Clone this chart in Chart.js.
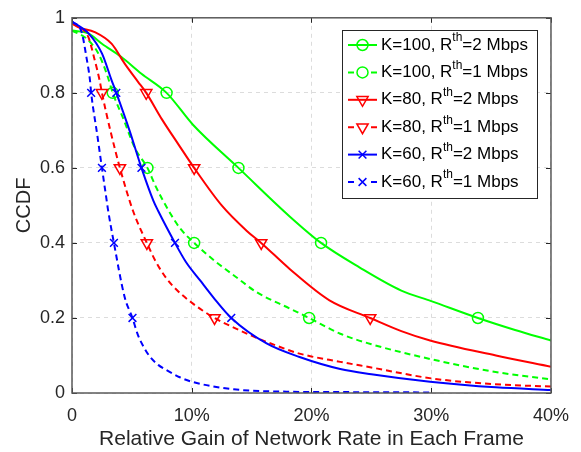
<!DOCTYPE html>
<html>
<head>
<meta charset="utf-8">
<title>CCDF of relative gain</title>
<script src="https://cdn.jsdelivr.net/npm/chart.js@4.4.1/dist/chart.umd.min.js"></script>
<style>
    body { margin: 0; background: #fff; }
</style>
</head>
<body>
<canvas id="ccdf" width="581" height="452"></canvas>
<script>
/******************************************************************************
* Values. x is the relative gain in percent.
******************************************************************************/
var xTicks = [0, 10, 20, 30, 40];
var yTicks = [0, 0.2, 0.4, 0.6, 0.8, 1];
var markLevels = [0.8, 0.6, 0.4, 0.2];

var legendK = ['100', '100', '80', '80', '60', '60'];
var legendR = ['2', '1', '2', '1', '2', '1'];

var k100r2X = [0, 1.4, 2.5, 4.1, 5.8, 7.9, 10.1, 13.9, 18.2, 20.8, 24, 27.5, 30, 33.9, 37, 40];
var k100r2Y = [0.966, 0.958, 0.931, 0.896, 0.851, 0.8, 0.715, 0.6, 0.47, 0.4, 0.335, 0.273, 0.245, 0.2, 0.168, 0.14];

var k100r1X = [0, 1.2, 2.2, 2.9, 3.4, 4.3, 5.25, 6.3, 7.0, 8.0, 9.0, 10.2, 12, 13.75, 15.4, 18.2, 19.8, 22.4, 25, 30, 35, 40];
var k100r1Y = [0.966, 0.945, 0.905, 0.851, 0.8, 0.73, 0.653, 0.6, 0.55, 0.49, 0.44, 0.4, 0.35, 0.308, 0.269, 0.225, 0.2, 0.158, 0.13, 0.09, 0.058, 0.036];

var k80r2X = [0, 0.5, 1.9, 3.3, 4.4, 5.5, 6.2, 7.5, 8.9, 10.2, 12.5, 14.6, 15.8, 18.2, 21.5, 24.9, 27.5, 29.9, 35.4, 40];
var k80r2Y = [0.985, 0.975, 0.962, 0.931, 0.878, 0.83, 0.8, 0.73, 0.662, 0.6, 0.5, 0.432, 0.4, 0.33, 0.247, 0.2, 0.165, 0.14, 0.1, 0.07];

var k80r1X = [0, 0.6, 1.36, 1.9, 2.3, 2.5, 3.2, 4.0, 5.1, 6.25, 7.0, 7.9, 8.9, 9.9, 10.9, 11.9, 13.4, 14.9, 17, 19, 22.4, 25, 30, 35, 40];
var k80r1Y = [0.985, 0.975, 0.949, 0.887, 0.834, 0.8, 0.7, 0.6, 0.485, 0.4, 0.35, 0.305, 0.27, 0.243, 0.22, 0.2, 0.176, 0.154, 0.127, 0.105, 0.083, 0.068, 0.039, 0.024, 0.017];

var k60r2X = [0, 1.4, 2.5, 3.3, 3.7, 4.8, 5.8, 6.8, 7.2, 8.6, 9.5, 10.7, 11.8, 13.3, 16.25, 19, 22.4, 25, 29.9, 35.4, 40];
var k60r2Y = [0.99, 0.958, 0.905, 0.834, 0.8, 0.7, 0.6, 0.512, 0.485, 0.4, 0.35, 0.3, 0.255, 0.2, 0.132, 0.096, 0.064, 0.05, 0.03, 0.015, 0.008];

var k60r1X = [0, 0.8, 1.2, 1.5, 1.6, 2.1, 2.5, 2.9, 3.0, 3.5, 4.4, 5.05, 5.5, 6.0, 6.5, 7.2, 7.9, 9.0, 10, 13.5, 17.9, 22, 26, 30];
var k60r1Y = [0.99, 0.962, 0.896, 0.834, 0.8, 0.69, 0.6, 0.512, 0.49, 0.4, 0.255, 0.2, 0.155, 0.122, 0.097, 0.075, 0.061, 0.042, 0.03, 0.01, 0.0035, 0.0025, 0.002, 0.0015];

var seriesX = [k100r2X, k100r1X, k80r2X, k80r1X, k60r2X, k60r1X];
var seriesY = [k100r2Y, k100r1Y, k80r2Y, k80r1Y, k60r2Y, k60r1Y];

/******************************************************************************
* Look of each curve (MATLAB style).
******************************************************************************/
var FONT = '"Liberation Sans", Arial, Helvetica, sans-serif';
var AXIS_COLOR = '#262626';
var DASH = [6, 4];

var styles = [
    { color: '#00ff00', dashed: false, marker: 'circle',   rotation: 0,   radius: 5.5 },
    { color: '#00ff00', dashed: true,  marker: 'circle',   rotation: 0,   radius: 5.5 },
    { color: '#ff0000', dashed: false, marker: 'triangle', rotation: 180, radius: 6.5 },
    { color: '#ff0000', dashed: true,  marker: 'triangle', rotation: 180, radius: 6.5 },
    { color: '#0000ff', dashed: false, marker: 'crossRot', rotation: 0,   radius: 5.5 },
    { color: '#0000ff', dashed: true,  marker: 'crossRot', rotation: 0,   radius: 5.5 }
];

function make_points(xs, ys) {
    return xs.map(function (x, i) { return { x: x, y: ys[i] }; });
}

function is_marked(ctx) {
    return ctx.raw && markLevels.indexOf(ctx.raw.y) >= 0;
}

var datasets = styles.map(function (s, i) {
    return {
        label: 'K=' + legendK[i] + ', Rth=' + legendR[i] + ' Mbps',
        data: make_points(seriesX[i], seriesY[i]),
        borderColor: s.color,
        borderWidth: 2,
        borderDash: s.dashed ? DASH : [],
        cubicInterpolationMode: 'monotone',
        fill: false,
        pointStyle: s.marker,
        pointRotation: s.rotation,
        pointBorderColor: s.color,
        pointBackgroundColor: 'rgba(0,0,0,0)',
        pointBorderWidth: 1.5,
        pointRadius: function (ctx) { return is_marked(ctx) ? s.radius : 0; },
        order: styles.length - i
    };
});

/******************************************************************************
* Draws a hollow marker (used by the legend).
******************************************************************************/
function draw_marker(ctx, style, x, y) {
    var r = style.radius;
    ctx.beginPath();
    if (style.marker === 'circle') {
        ctx.arc(x, y, r, 0, Math.PI * 2);
    }
    else if (style.marker === 'triangle') {
        var h = r * Math.sin(Math.PI / 3);
        ctx.moveTo(x - h, y - r / 2);
        ctx.lineTo(x + h, y - r / 2);
        ctx.lineTo(x, y + r);
        ctx.closePath();
    }
    else {
        var d = r * Math.SQRT1_2;
        ctx.moveTo(x - d, y - d);
        ctx.lineTo(x + d, y + d);
        ctx.moveTo(x + d, y - d);
        ctx.lineTo(x - d, y + d);
    }
    ctx.stroke();
}

/******************************************************************************
* Box round the axes with inward tick marks on all four sides.
******************************************************************************/
var boxPlugin = {
    id: 'matlabBox',
    afterDatasetsDraw: function (chart) {
        var ctx = chart.ctx;
        var a = chart.chartArea;
        var xs = chart.scales.x;
        var ys = chart.scales.y;
        var len = 5;

        ctx.save();
        ctx.strokeStyle = AXIS_COLOR;
        ctx.lineWidth = 1;
        ctx.setLineDash([]);
        ctx.beginPath();
        xTicks.forEach(function (v) {
            var px = Math.round(xs.getPixelForValue(v)) + 0.5;
            ctx.moveTo(px, a.bottom);
            ctx.lineTo(px, a.bottom - len);
            ctx.moveTo(px, a.top);
            ctx.lineTo(px, a.top + len);
        });
        yTicks.forEach(function (v) {
            var py = Math.round(ys.getPixelForValue(v)) + 0.5;
            ctx.moveTo(a.left, py);
            ctx.lineTo(a.left + len, py);
            ctx.moveTo(a.right, py);
            ctx.lineTo(a.right - len, py);
        });
        ctx.stroke();

        ctx.strokeStyle = '#5a5a5a';
        ctx.lineWidth = 1.5;
        ctx.strokeRect(a.left, a.top, a.right - a.left, a.bottom - a.top);
        ctx.restore();
    }
};

/******************************************************************************
* Legend with superscript "th", drawn inside the upper right corner.
******************************************************************************/
var legendPlugin = {
    id: 'matlabLegend',
    afterDraw: function (chart) {
        var ctx = chart.ctx;
        var left = 342, top = 30, width = 195, height = 168;
        var rowTop = 45, rowStep = 27.4;

        ctx.save();
        ctx.fillStyle = '#ffffff';
        ctx.fillRect(left, top, width, height);
        ctx.strokeStyle = AXIS_COLOR;
        ctx.lineWidth = 1;
        ctx.strokeRect(left + 0.5, top + 0.5, width, height);

        styles.forEach(function (s, i) {
            var y = rowTop + i * rowStep;
            var x0 = left + 6, x1 = left + 35, xm = (x0 + x1) / 2;

            ctx.strokeStyle = s.color;
            ctx.lineWidth = 2;
            ctx.beginPath();
            if (s.dashed) {
                ctx.moveTo(x0, y); ctx.lineTo(x0 + 6, y);
                ctx.moveTo(x1 - 6, y); ctx.lineTo(x1, y);
            }
            else {
                ctx.moveTo(x0, y); ctx.lineTo(x1, y);
            }
            ctx.stroke();
            ctx.lineWidth = 1.5;
            draw_marker(ctx, s, xm, y);

            var tx = left + 39;
            var part1 = 'K=' + legendK[i] + ', R';
            var part3 = '=' + legendR[i] + ' Mbps';
            ctx.fillStyle = '#000000';
            ctx.textBaseline = 'middle';
            ctx.textAlign = 'left';
            ctx.font = '17px ' + FONT;
            ctx.fillText(part1, tx, y);
            tx += ctx.measureText(part1).width;
            ctx.font = '12px ' + FONT;
            ctx.fillText('th', tx, y - 7);
            tx += ctx.measureText('th').width;
            ctx.font = '17px ' + FONT;
            ctx.fillText(part3, tx, y);
        });
        ctx.restore();
    }
};

var ctx = document.getElementById('ccdf').getContext('2d');
window.ccdfChart = new Chart(ctx, {
    type: 'line',
    data: { datasets: datasets },
    plugins: [boxPlugin, legendPlugin],
    options: {
        responsive: false,
        animation: false,
        events: [],
        layout: { padding: { left: 0, right: 30, top: 16, bottom: 0 } },
        plugins: {
            legend: { display: false },
            tooltip: { enabled: false }
        },
        scales: {
            x: {
                type: 'linear',
                min: 0,
                max: 40,
                afterFit: function (scale) { scale.height = 59; },
                afterBuildTicks: function (scale) {
                    scale.ticks = xTicks.map(function (v) { return { value: v }; });
                },
                grid: { color: '#dcdcdc', lineWidth: 1, drawTicks: false },
                border: { display: false, dash: [4, 4] },
                ticks: {
                    padding: 12,
                    color: AXIS_COLOR,
                    font: { family: FONT, size: 18 },
                    maxRotation: 0,
                    callback: function (v) { return v === 0 ? '0' : v + '%'; }
                },
                title: {
                    display: true,
                    text: 'Relative Gain of Network Rate in Each Frame',
                    color: AXIS_COLOR,
                    font: { family: FONT, size: 21 },
                    padding: { top: 0, bottom: 0 }
                }
            },
            y: {
                type: 'linear',
                min: 0,
                max: 1,
                afterFit: function (scale) { scale.width = 72; },
                afterBuildTicks: function (scale) {
                    scale.ticks = yTicks.map(function (v) { return { value: v }; });
                },
                grid: { color: '#dcdcdc', lineWidth: 1, drawTicks: false },
                border: { display: false, dash: [4, 4] },
                ticks: {
                    padding: 7,
                    color: AXIS_COLOR,
                    font: { family: FONT, size: 18 },
                    callback: function (v) {
                        return (v === 0 || v === 1) ? String(v) : v.toFixed(1);
                    }
                },
                title: {
                    display: true,
                    text: 'CCDF',
                    color: AXIS_COLOR,
                    font: { family: FONT, size: 20 },
                    padding: { top: 12, bottom: 0 }
                }
            }
        }
    }
});
</script>
</body>
</html>
